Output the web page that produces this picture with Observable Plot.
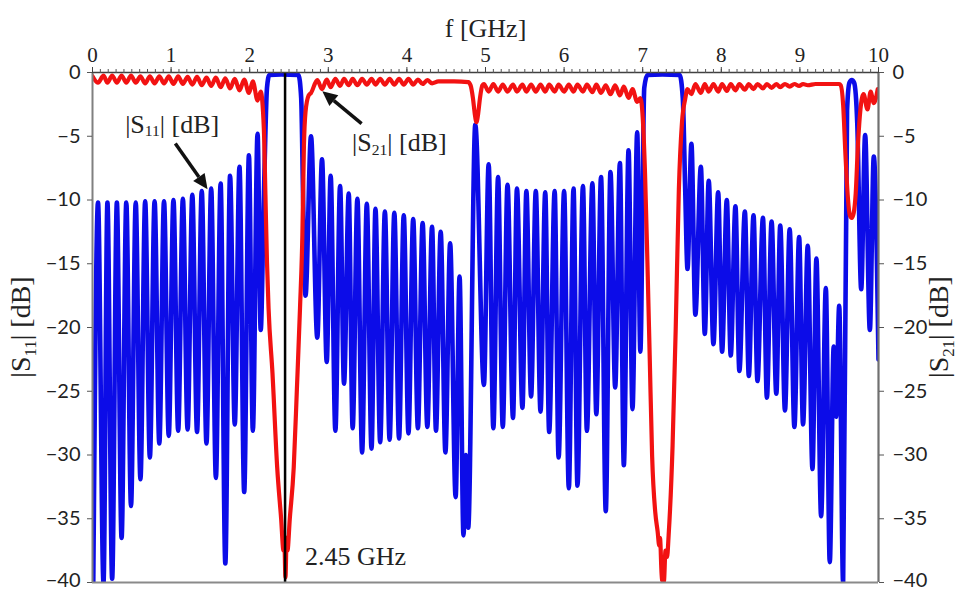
<!DOCTYPE html>
<html><head><meta charset="utf-8">
<script src="https://cdn.jsdelivr.net/npm/d3@7"></script>
<script src="https://cdn.jsdelivr.net/npm/@observablehq/plot@0.6"></script>
<style>body{margin:0;background:#fff}#chart svg{display:block}</style>
</head><body><div id="chart"></div>
<script>
// ---- axis ticks ----
const xTicks = [0,1,2,3,4,5,6,7,8,9,10];
const xMinorTicks = d3.range(0, 101).map(i => i / 10);
const yTicks = [0,-5,-10,-15,-20,-25,-30,-35,-40];
const markerFreq = 2.45;
const markerLabel = "2.45 GHz";
const xTitle = "f [GHz]";

// ---- |S11| [dB] (frequency GHz, dB) ----
const s11Low = [[0.01,-40],[0.07,-10.2],[0.14,-40],[0.19,-10.2],[0.25,-39.7],[0.31,-10.2],[0.37,-36.5],[0.43,-10.2],[0.49,-34.0],[0.55,-10.2],[0.61,-31.9],[0.67,-10.1],[0.73,-30.2],[0.79,-10.1],[0.85,-29.1],[0.91,-10.1],[0.97,-28.5],[1.03,-10.0],[1.09,-28.1],[1.15,-9.9],[1.21,-28.0],[1.27,-9.6],[1.33,-28.2],[1.39,-9.3],[1.45,-29.1],[1.51,-9.1],[1.57,-31.8],[1.63,-8.7],[1.69,-38.5],[1.75,-8.1],[1.81,-27.6],[1.87,-7.4],[1.93,-32.9],[1.99,-6.5],[2.04,-28.1],[2.10,-4.8],[2.14,-20.2],[2.18,-9.8],[2.22,-1.2],[2.25,-0.2],[2.40,-0.15],[2.62,-0.2],[2.655,-2.0],[2.68,-10.0],[2.71,-17.5]];
const s11Mid = [[2.78,-5.0],[2.86,-20.8],[2.92,-6.8],[2.98,-22.7],[3.03,-8.1],[3.09,-28.1],[3.15,-8.9],[3.20,-24.4],[3.26,-9.5],[3.31,-27.9],[3.37,-9.9],[3.43,-29.8],[3.49,-10.3],[3.55,-29.5],[3.60,-10.7],[3.66,-29.0],[3.72,-10.9],[3.78,-28.8],[3.84,-11.0],[3.90,-28.7],[3.96,-11.2],[4.02,-28.3],[4.08,-11.5],[4.14,-27.9],[4.20,-11.8],[4.26,-27.8],[4.32,-12.1],[4.37,-28.1],[4.43,-12.5],[4.49,-29.8],[4.55,-13.4],[4.62,-33.3],[4.67,-16.0],[4.72,-36.3],[4.75,-30.0],[4.78,-35.7],[4.87,-4.1],[4.98,-24.5],[5.04,-7.2],[5.10,-27.9],[5.16,-8.2],[5.22,-27.8],[5.28,-8.8],[5.35,-27.1],[5.40,-9.1],[5.47,-26.3],[5.52,-9.3],[5.58,-25.4],[5.64,-9.3],[5.70,-26.6],[5.76,-9.4],[5.81,-28.2],[5.88,-9.3],[5.93,-30.2],[6.00,-9.3],[6.06,-32.6],[6.12,-9.1],[6.17,-32.4],[6.24,-8.9],[6.29,-28.1],[6.36,-8.7],[6.41,-26.8],[6.47,-8.2],[6.53,-34.4],[6.59,-7.8],[6.65,-24.7],[6.71,-7.1],[6.76,-30.8],[6.82,-6.1],[6.87,-26.4],[6.93,-4.7],[6.97,-21.9],[7.02,-1.2],[7.06,-0.2],[7.25,-0.15],[7.47,-0.2],[7.51,-2.0],[7.54,-9.0],[7.57,-15.4]];
const s11High = [[7.62,-5.6],[7.67,-19.0],[7.74,-7.4],[7.79,-20.5],[7.84,-8.5],[7.90,-21.3],[7.96,-9.4],[8.01,-21.9],[8.07,-10.0],[8.12,-22.2],[8.18,-10.5],[8.23,-23.4],[8.30,-10.9],[8.35,-23.8],[8.41,-11.2],[8.46,-24.2],[8.53,-11.4],[8.58,-25.5],[8.64,-11.7],[8.70,-25.2],[8.75,-12.0],[8.81,-26.5],[8.87,-12.3],[8.93,-27.8],[8.99,-12.9],[9.04,-27.6],[9.10,-13.6],[9.16,-31.1],[9.21,-14.6],[9.27,-34.8],[9.33,-16.9],[9.38,-38.4],[9.43,-21.5],[9.46,-27.0],[9.50,-18.3],[9.55,-40],[9.60,-3.0],[9.63,-0.8],[9.66,-0.6],[9.69,-0.8],[9.73,-4.0],[9.78,-17.0],[9.83,-4.9],[9.89,-20.2],[9.94,-6.6],[10.0,-22.5]];

// ---- |S21| [dB] ----
const s21Low = [[0.0,-0.3],[0.07,-0.8],[0.14,-0.25],[0.19,-0.8],[0.25,-0.25],[0.31,-0.8],[0.37,-0.25],[0.43,-0.8],[0.49,-0.25],[0.55,-0.8],[0.61,-0.3],[0.67,-0.85],[0.73,-0.3],[0.79,-0.85],[0.85,-0.3],[0.91,-0.85],[0.97,-0.3],[1.03,-0.9],[1.09,-0.3],[1.15,-0.9],[1.21,-0.35],[1.27,-0.95],[1.33,-0.35],[1.39,-1.0],[1.45,-0.4],[1.51,-1.05],[1.57,-0.4],[1.63,-1.15],[1.69,-0.45],[1.75,-1.25],[1.81,-0.5],[1.87,-1.4],[1.93,-0.55],[1.99,-1.6],[2.04,-0.7],[2.10,-2.2],[2.14,-1.5],[2.18,-4.4],[2.20,-9.6],[2.22,-14.9],[2.24,-18.5],[2.29,-23.6],[2.35,-31.0],[2.40,-35.0],[2.43,-37.5],[2.44,-36.5],[2.455,-39.6],[2.47,-36.5],[2.48,-37.5],[2.51,-35.0],[2.56,-31.0],[2.60,-24.9],[2.64,-18.5],[2.67,-12.8],[2.69,-5.7],[2.71,-3.1],[2.75,-1.8]];
const s21Mid = [[2.78,-1.6],[2.86,-0.6],[2.92,-1.3],[2.98,-0.55],[3.03,-1.15],[3.09,-0.5],[3.15,-1.05],[3.20,-0.5],[3.26,-1.0],[3.31,-0.5],[3.37,-1.0],[3.43,-0.5],[3.49,-0.95],[3.55,-0.5],[3.60,-0.95],[3.66,-0.5],[3.72,-0.95],[3.78,-0.5],[3.84,-0.95],[3.90,-0.5],[3.96,-0.95],[4.02,-0.5],[4.08,-0.95],[4.14,-0.55],[4.20,-0.9],[4.26,-0.6],[4.32,-0.85],[4.40,-0.7],[4.60,-0.7],[4.78,-0.75],[4.81,-1.0],[4.84,-2.0],[4.865,-3.3],[4.885,-3.9],[4.905,-3.3],[4.93,-2.0],[4.96,-1.0],[4.98,-0.9],[5.04,-1.5],[5.10,-0.9],[5.16,-1.5],[5.22,-0.95],[5.28,-1.5],[5.35,-0.95],[5.40,-1.5],[5.47,-0.95],[5.52,-1.5],[5.58,-0.95],[5.64,-1.5],[5.70,-0.95],[5.76,-1.5],[5.81,-0.95],[5.88,-1.5],[5.93,-0.95],[6.00,-1.5],[6.06,-0.95],[6.12,-1.5],[6.17,-0.95],[6.24,-1.5],[6.29,-0.95],[6.36,-1.55],[6.41,-0.95],[6.47,-1.6],[6.53,-1.0],[6.59,-1.7],[6.65,-1.0],[6.71,-1.8],[6.76,-1.1],[6.82,-2.0],[6.87,-1.3],[6.93,-2.3],[6.97,-2.0],[7.00,-3.5],[7.03,-8.0],[7.06,-14.9],[7.09,-22.5],[7.12,-30.1],[7.16,-34.5],[7.19,-36.0],[7.21,-37.1],[7.22,-36.5],[7.245,-39.8],[7.27,-39.9],[7.29,-37.5],[7.31,-38.0],[7.33,-36.3],[7.38,-29.3],[7.42,-20.1],[7.46,-9.2],[7.50,-3.9],[7.54,-2.1]];
const s21High = [[7.57,-1.3],[7.62,-1.7],[7.67,-0.9],[7.74,-1.6],[7.79,-0.9],[7.84,-1.5],[7.90,-0.9],[7.96,-1.5],[8.01,-0.9],[8.07,-1.45],[8.12,-0.9],[8.18,-1.4],[8.23,-0.9],[8.30,-1.35],[8.35,-0.9],[8.41,-1.3],[8.46,-0.9],[8.53,-1.25],[8.58,-0.9],[8.64,-1.2],[8.70,-0.9],[8.75,-1.15],[8.81,-0.9],[8.87,-1.1],[8.93,-0.9],[8.99,-1.05],[9.04,-0.9],[9.10,-1.0],[9.20,-0.9],[9.50,-0.9],[9.52,-1.0],[9.55,-2.5],[9.58,-6.5],[9.61,-9.8],[9.635,-11.2],[9.66,-11.4],[9.685,-11.0],[9.71,-9.5],[9.74,-5.5],[9.77,-2.9],[9.81,-1.7],[9.86,-2.9],[9.90,-1.5],[9.94,-2.4],[9.99,-1.3]];

// ---- annotations (data coordinates) ----
const s11Note = {f: 1.02, v: -4.3, from: [1.06, -5.6], to: [1.47, -9.2], sub: "11"};
const s21Note = {f: 3.91, v: -5.75, from: [3.43, -4.05], to: [2.93, -1.5], sub: "21"};

const toRows = arr => arr.map(([f, v]) => ({f, v}));
const s11 = toRows([...s11Low, ...s11Mid, ...s11High]);
const s21 = toRows([...s21Low, ...s21Mid, ...s21High]);

const serif = "'Liberation Serif','Times New Roman',serif";
const sans = "Lato,'Open Sans',sans-serif";

const plot = Plot.plot({
  width: 960, height: 590,
  marginLeft: 92, marginRight: 82, marginTop: 72, marginBottom: 8,
  x: {domain: [0, 10]},
  y: {domain: [-40, 0]},
  style: {background: "#fff", overflow: "visible"},
  marks: [
    Plot.line(s11, {x: "f", y: "v", stroke: "#0c0ce8", strokeWidth: 4.6, curve: "monotone-x", clip: true, strokeLinejoin: "round"}),
    Plot.line(s21, {x: "f", y: "v", stroke: "#f21212", strokeWidth: 4.2, curve: "monotone-x", clip: true, strokeLinejoin: "round"}),
    Plot.ruleX([markerFreq], {stroke: "#000", strokeWidth: 2.5}),
    Plot.ruleX([0], {stroke: "#808080", strokeWidth: 2}),
    Plot.ruleX([10], {stroke: "#707070", strokeWidth: 2.2}),
    Plot.ruleY([-40], {stroke: "#8a8a8a", strokeWidth: 2.2}),
    Plot.ruleY([0], {stroke: "#404040", strokeWidth: 1.5}),
    Plot.axisX({anchor: "top", ticks: xMinorTicks, tickSize: 4, tickFormat: () => "", label: null, stroke: "#555"}),
    Plot.axisX({anchor: "top", ticks: xTicks, tickSize: 6, tickPadding: 5, label: null, stroke: "#444"}),
    Plot.axisY({anchor: "left", ticks: yTicks, tickSize: 5, tickPadding: 7, label: null, stroke: "#555"}),
    Plot.axisY({anchor: "right", ticks: yTicks, tickSize: 5, tickPadding: 9, label: null, stroke: "#555"}),
    Plot.text([markerLabel], {x: markerFreq, y: -40, dx: 20, dy: -26, textAnchor: "start", fontSize: 26, fontFamily: serif, fill: "#222"}),
    Plot.text([xTitle], {frameAnchor: "top", dy: -54, fontSize: 26, fontFamily: serif, fill: "#222"})
  ]
});
document.getElementById("chart").append(plot);

const svg = d3.select(plot);
svg.selectAll('[aria-label="x-axis tick label"] text').attr("font-family", serif).attr("font-size", 21).attr("fill", "#222");
svg.selectAll('[aria-label="y-axis tick label"] text').attr("font-family", sans).attr("font-size", 20).attr("fill", "#222");
// keep the lowest y tick labels inside the picture
svg.selectAll('[aria-label="y-axis tick label"] text').filter(function () { return /40$/.test(this.textContent); }).attr("dy", "-0.12em");

const X = plot.scale("x"), Y = plot.scale("y");
const sx = v => X.apply(v), sy = v => Y.apply(v);

// text with subscript: |S_sub| [dB]
function labelS(g, sub, size) {
  const t = g.append("text").attr("font-family", serif).attr("font-size", size).attr("fill", "#222");
  t.append("tspan").text("|S");
  t.append("tspan").attr("font-size", size * 0.6).attr("dy", size * 0.2).text(sub);
  t.append("tspan").attr("dy", -size * 0.2).text("| [dB]");
  return t;
}
for (const n of [s11Note, s21Note]) {
  const g = svg.append("g");
  labelS(g, n.sub, 26).attr("x", sx(n.f)).attr("y", sy(n.v)).attr("text-anchor", "middle").attr("dominant-baseline", "middle");
  const x1 = sx(n.from[0]), y1 = sy(n.from[1]), x2 = sx(n.to[0]), y2 = sy(n.to[1]);
  const ang = Math.atan2(y2 - y1, x2 - x1), hl = 15, hw = 7;
  const bx = x2 - hl * Math.cos(ang), by = y2 - hl * Math.sin(ang);
  g.append("line").attr("x1", x1).attr("y1", y1).attr("x2", bx).attr("y2", by).attr("stroke", "#111").attr("stroke-width", 3.5);
  g.append("path").attr("d", `M${x2},${y2}L${bx + hw * Math.sin(ang)},${by - hw * Math.cos(ang)}L${bx - hw * Math.sin(ang)},${by + hw * Math.cos(ang)}Z`).attr("fill", "#111");
}
// rotated axis titles
const yMid = (sy(0) + sy(-40)) / 2;
labelS(svg.append("g").attr("transform", `translate(30,${yMid}) rotate(-90)`), "11", 28).attr("text-anchor", "middle");
labelS(svg.append("g").attr("transform", `translate(948,${yMid}) rotate(-90)`), "21", 28).attr("text-anchor", "middle");
</script></body></html>
